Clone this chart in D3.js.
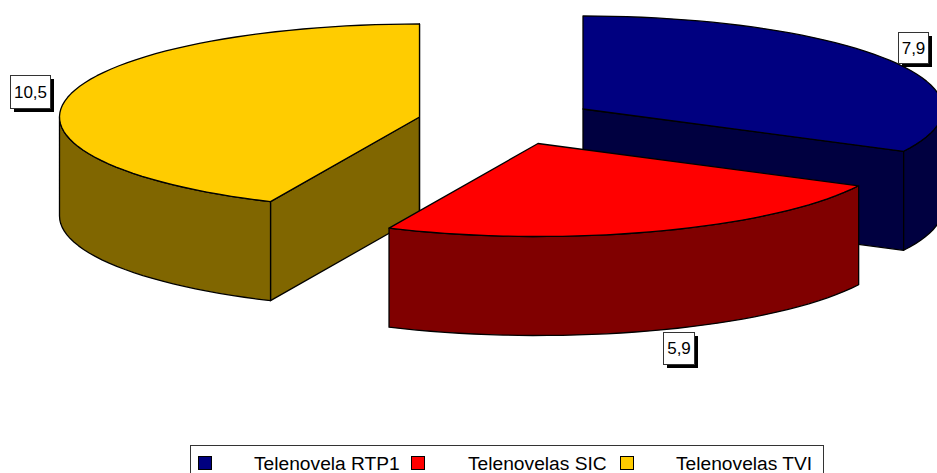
<!DOCTYPE html>
<html><head><meta charset="utf-8">
<script src="https://cdn.jsdelivr.net/npm/d3@7"></script>
<style>html,body{margin:0;padding:0;background:#fff;overflow:hidden}svg{display:block}text{font-family:"Liberation Sans",Arial,sans-serif;fill:#000}</style>
</head><body><svg id="c" width="937" height="473"></svg>
<script>
const categories = ["Telenovela RTP1","Telenovelas SIC","Telenovelas TVI"];
const values = [7.9,5.9,10.5];
const valueLabels = ["7,9","5,9","10,5"];
const topColors = ["#000080","#FF0000","#FFCC00"];
const sideColors = ["#000040","#800000","#806600"];
const apexes = [[583,109],[538,143.5],[419.5,117]];
const labelBoxes = [[898,32,30,31],[663,332,31,32],[10,75,40,33]];
const legendX = [198,411,620], legendTextX = [254,468,676];

const rx=360, ry=93, depth=99;
const svg=d3.select("#c");
const arcs=d3.pie().sort(null).value(d=>d)(values);
const line=d3.line();
function pt(a,t,dy=0){return [a[0]+rx*Math.sin(t),a[1]-ry*Math.cos(t)+dy];}
function arcPts(a,t0,t1,dy=0){const n=Math.max(2,Math.ceil(Math.abs(t1-t0)*24));
  return d3.range(n+1).map(i=>pt(a,t0+(t1-t0)*i/n,dy));}
function draw(pts,fill){svg.append("path").attr("d",line(pts)+"Z").attr("fill",fill)
  .attr("stroke","#000").attr("stroke-width",1.3).attr("stroke-linejoin","round");}
const P=Math.PI;
// Draw order: RTP1, TVI, SIC
[0,2,1].forEach(i=>{
  const a=apexes[i], s=arcs[i].startAngle, e=arcs[i].endAngle;
  const w0=Math.max(s,P/2), w1=Math.min(e,3*P/2);
  [s,e].forEach(t=>{
    const front = (t===e && Math.sin(t)>0) || (t===s && Math.sin(t)<0);
    if(front){
      const p=pt(a,t);
      draw([a,p,[p[0],p[1]+depth],[a[0],a[1]+depth]],sideColors[i]);
    }
  });
  if(w1>w0){
    draw(arcPts(a,w0,w1).concat(arcPts(a,w1,w0,depth)),sideColors[i]);
  }
  draw([a].concat(arcPts(a,s,e)),topColors[i]);
});
// Data labels
labelBoxes.forEach((b,i)=>{
  svg.append("rect").attr("x",b[0]+4).attr("y",b[1]+4).attr("width",b[2]).attr("height",b[3]).attr("fill","#000");
  svg.append("rect").attr("x",b[0]+.5).attr("y",b[1]+.5).attr("width",b[2]).attr("height",b[3])
    .attr("fill","#fff").attr("stroke","#333");
  svg.append("text").attr("x",b[0]+b[2]/2+.5).attr("y",b[1]+b[3]/2+6).attr("text-anchor","middle")
    .attr("font-size",17).text(valueLabels[i]);
});
// Legend
svg.append("rect").attr("x",190.5).attr("y",445.5).attr("width",633).attr("height",40)
  .attr("fill","#fff").attr("stroke","#333");
categories.forEach((c,i)=>{
  svg.append("rect").attr("x",legendX[i]+.5).attr("y",456.5).attr("width",13).attr("height",13)
    .attr("fill",topColors[i]).attr("stroke","#000");
  svg.append("text").attr("x",legendTextX[i]).attr("y",470).attr("font-size",19.2).text(c);
});
</script></body></html>
